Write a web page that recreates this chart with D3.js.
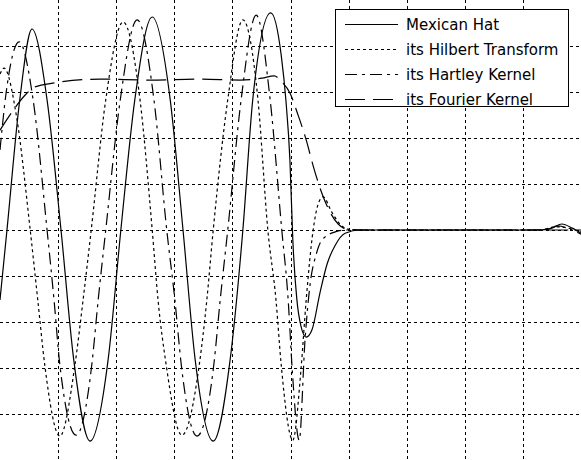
<!DOCTYPE html>
<html>
  <head>
    <style>
      body { margin: 0; background: #fff; }
      .grid line { stroke: #000; stroke-width: 1; stroke-dasharray: 3,3; }
      .curve { fill: none; stroke: #000; stroke-width: 1.2; }
      .legend text { font-family: "DejaVu Sans", sans-serif; font-size: 15px; fill: #000; }
    </style>
  </head>
  <body>
    <script src="https://d3js.org/d3.v7.min.js"></script>
    <div id="chart"></div>
    <script>
      // Series (x in 0..10, y in -5..5)
      var hatX = [0, 0.12, 0.34, 0.55, 0.81, 1.05, 1.27, 1.55, 1.86, 2.08, 2.32, 2.62, 2.93, 3.15, 3.36, 3.67, 3.96, 4.18, 4.35, 4.66,
                  4.84, 4.92, 4.99, 5.04, 5.11, 5.18, 5.27, 5.37, 5.51, 5.63, 5.77, 5.94, 6.20, 9.29, 9.50, 9.67, 9.85, 10];
      var hatY = [-1.52, 0, 2.83, 4.37, 2.83, 0, -2.83, -4.59, -2.83, 0, 2.83, 4.63, 2.83, 0, -2.83, -4.59, -2.83, 0, 2.83, 4.72,
                  3.80, 2.83, 1.52, -0.22, -1.52, -2.09, -2.33, -2.17, -1.35, -0.74, -0.33, -0.07, 0, 0, 0.04, 0.13, 0.04, -0.07];

      var hilbX = [0, 0.07, 0.28, 0.52, 0.65, 0.77, 1.03, 1.29, 1.43, 1.57, 1.82, 2.12, 2.41, 2.62, 2.72, 2.86, 3.13, 3.43, 3.56, 3.67,
                   3.92, 4.18, 4.44, 4.61, 4.75, 4.84, 5.04, 5.18, 5.27, 5.39, 5.47, 5.56, 5.71, 5.85, 5.99, 6.20, 9.29, 9.57, 9.78, 10];
      var hilbY = [3.39, 3.52, 2.50, 0, -1.52, -2.93, -4.48, -2.93, -1.52, 0, 2.83, 4.52, 2.83, 0, -1.52, -2.93, -4.46, -2.93, -1.52, 0,
                   2.83, 4.57, 2.83, 0, -1.52, -2.93, -4.57, -3.04, -1.52, 0, 0.54, 0.72, 0.39, 0.13, 0.02, 0, 0, 0.07, 0.04, -0.04];

      var hartX = [0, 0.10, 0.33, 0.57, 0.81, 0.93, 1.03, 1.31, 1.58, 1.69, 1.82, 2.07, 2.36, 2.65, 2.87, 3.01, 3.12, 3.39, 3.68, 3.79,
                   3.92, 4.15, 4.41, 4.65, 4.85, 4.96, 5.03, 5.15, 5.25, 5.34, 5.44, 5.54, 5.77, 5.94, 6.20, 9.38, 9.60, 9.81, 10];
      var hartY = [1.74, 2.93, 4.09, 2.83, 0, -1.52, -2.93, -4.46, -2.93, -1.52, 0, 2.83, 4.57, 2.83, 0, -1.52, -2.93, -4.48, -2.93, -1.52,
                   0, 2.83, 4.67, 2.83, 0, -1.52, -3.04, -4.57, -2.39, -1.15, -0.54, -0.22, -0.04, 0, 0, 0, 0.09, 0.02, -0.09];

      var fourX = [0, 0.21, 0.43, 0.60, 0.95, 1.72, 2.58, 3.44, 4.13, 4.51, 4.72, 4.85, 4.99, 5.13, 5.27, 5.40, 5.54, 5.68, 5.82, 5.96, 6.20, 10];
      var fourY = [2.17, 2.57, 2.93, 3.11, 3.20, 3.28, 3.26, 3.28, 3.26, 3.30, 3.35, 3.22, 2.98, 2.50, 1.96, 1.35, 0.80, 0.39, 0.13, 0.02, 0, 0];

      var xTicks = [1, 2, 3, 4, 5, 6, 7, 8, 9];
      var yTicks = [-4, -3, -2, -1, 0, 1, 2, 3, 4];

      var legendLabels = ["Mexican Hat", "its Hilbert Transform", "its Hartley Kernel", "its Fourier Kernel"];

      var width = 581, height = 460;

      var x = d3.scaleLinear().domain([0, 10]).range([0, width]);
      var y = d3.scaleLinear().domain([-5, 5]).range([height, 0]);

      var svg = d3.select("#chart")
                  .append("svg")
                    .attr("width", width)
                    .attr("height", height);

      // Dashed grid
      var grid = svg.append("g").attr("class", "grid");
      grid.selectAll(".vx")
          .data(xTicks)
        .enter().append("line")
          .attr("x1", function(d) { return Math.round(x(d)) + 0.5; })
          .attr("x2", function(d) { return Math.round(x(d)) + 0.5; })
          .attr("y1", 0)
          .attr("y2", height);
      grid.selectAll(".hy")
          .data(yTicks)
        .enter().append("line")
          .attr("y1", function(d) { return Math.round(y(d)) + 0.5; })
          .attr("y2", function(d) { return Math.round(y(d)) + 0.5; })
          .attr("x1", 0)
          .attr("x2", width);

      var series = [
        {xs: hatX, ys: hatY, dash: null},
        {xs: hilbX, ys: hilbY, dash: "3,3"},
        {xs: hartX, ys: hartY, dash: "12,5,3,5"},
        {xs: fourX, ys: fourY, dash: "20,8"}
      ];

      var line = d3.line()
          .x(function(d) { return x(d[0]); })
          .y(function(d) { return y(d[1]); })
          .curve(d3.curveMonotoneX);

      svg.selectAll(".curve")
          .data(series)
        .enter().append("path")
          .attr("class", "curve")
          .attr("stroke-dasharray", function(d) { return d.dash; })
          .attr("d", function(d) { return line(d3.zip(d.xs, d.ys)); });

      // Legend
      var legend = svg.append("g").attr("class", "legend");
      legend.append("rect")
          .attr("x", 335.5).attr("y", 9.5)
          .attr("width", 233).attr("height", 97)
          .attr("fill", "#fff").attr("stroke", "#000");

      var rows = legend.selectAll(".row")
          .data(legendLabels)
        .enter().append("g")
          .attr("transform", function(d, i) { return "translate(0," + (24.5 + i * 25) + ")"; });
      rows.append("line")
          .attr("class", "curve")
          .attr("x1", 345).attr("x2", 398)
          .attr("stroke-dasharray", function(d, i) { return series[i].dash; });
      rows.append("text")
          .attr("x", 406)
          .attr("dy", "0.35em")
          .text(function(d) { return d; });
    </script>
  </body>
</html>
